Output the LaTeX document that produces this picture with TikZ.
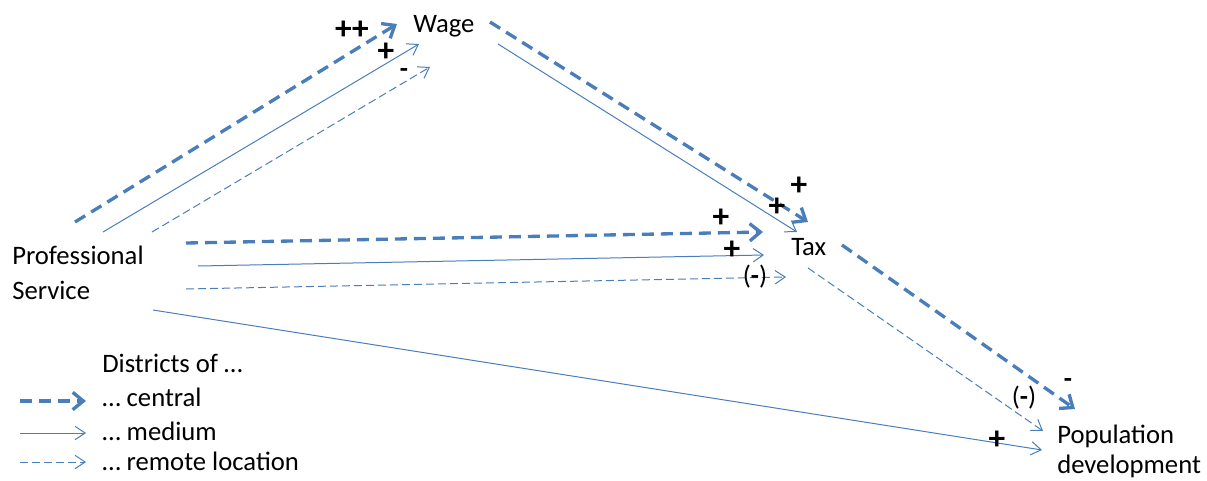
\documentclass[tikz,border=0pt]{standalone}
\usepackage{fontspec}
\setmainfont{Carlito}
\usetikzlibrary{arrows.meta}
\definecolor{LinkBlue}{RGB}{74,126,187}

\begin{document}
\begin{tikzpicture}[
  x=0.75pt, y=-0.75pt,
  font=\fontsize{20}{26.25}\selectfont,
  factor/.style={inner sep=0pt, align=left, anchor=base west},
  sign/.style={inner sep=0pt, font=\fontsize{25}{25}\selectfont\bfseries},
  minus/.style={inner sep=0pt, font=\fontsize{20}{20}\selectfont},
  central/.style={draw=LinkBlue, line width=2.5pt, dash pattern=on 9pt off 5.25pt,
    -{Straight Barb[length=8pt, width=13pt]}},
  medium/.style={draw=LinkBlue, line width=0.75pt,
    -{Straight Barb[length=7.5pt, width=10pt]}},
  remote/.style={draw=LinkBlue, line width=0.75pt, dash pattern=on 6pt off 3pt,
    -{Straight Barb[length=7.5pt, width=10pt]}}
]
\useasboundingbox (0,0) rectangle (1207,480);

% --- FACTORS ---
\node[factor] (wage) at (413,32) {Wage};
\node[factor] (service) at (12,299) {Professional\\Service};
\node[factor] (tax) at (791,255) {Tax};
\node[factor, font=\fontsize{20}{22.5}\selectfont] (pop) at (1057,473) {Population\\development};

% --- end points ---
\coordinate (c1s) at (75,222);   \coordinate (c1e) at (397,24);
\coordinate (c2s) at (490,22);   \coordinate (c2e) at (808,222);
\coordinate (c3s) at (186,243);  \coordinate (c3e) at (763,232);
\coordinate (c4s) at (842,245);  \coordinate (c4e) at (1075,409);
\coordinate (m1s) at (103,232);  \coordinate (m1e) at (419,44);
\coordinate (m2s) at (498,44);   \coordinate (m2e) at (797,232);
\coordinate (m3s) at (198,266);  \coordinate (m3e) at (764,255);
\coordinate (m4s) at (153,310);  \coordinate (m4e) at (1042,450);
\coordinate (r1s) at (152,232);  \coordinate (r1e) at (430,67);
\coordinate (r2s) at (186,289);  \coordinate (r2e) at (786,277);
\coordinate (r3s) at (808,268);  \coordinate (r3e) at (1043,431);

% --- central ---
\draw[central] (c1s) -- (c1e);
\draw[central] (c2s) -- (c2e);
\draw[central] (c3s) -- (c3e);
\draw[central] (c4s) -- (c4e);

% --- medium ---
\draw[medium] (m1s) -- (m1e);
\draw[medium] (m2s) -- (m2e);
\draw[medium] (m3s) -- (m3e);
\draw[medium] (m4s) -- (m4e);

% --- remote ---
\draw[remote] (r1s) -- (r1e);
\draw[remote] (r2s) -- (r2e);
\draw[remote] (r3s) -- (r3e);

% --- signs ---
\node[sign] (s1) at (352,30) {++};
\node[sign] (s2) at (386,52) {+};
\node[minus] (s3) at (404,73) {\textbf{-}};
\node[sign] (s4) at (799,186) {+};
\node[sign] (s5) at (777,207) {+};
\node[sign] (s6) at (721,218) {+};
\node[sign] (s7) at (732,250) {+};
\node[minus] (s8) at (755,277) {(\textbf{-})};
\node[minus] (s9) at (1068,383) {\textbf{-}};
\node[minus] (s10) at (1024,398) {(\textbf{-})};
\node[sign] (s11) at (997,440) {+};

% --- LEGEND ---
\node[factor] (legtitle) at (102,372) {Districts of \dots};
\node[factor] (legc) at (102,406) {\dots\ central};
\node[factor] (legm) at (102,440) {\dots\ medium};
\node[factor] (legr) at (102,470) {\dots\ remote location};
\coordinate (lc) at (20,401);
\coordinate (lm) at (20,433);
\coordinate (lr) at (20,462);
\draw[central] (lc) -- ([xshift=-12pt]legc.west |- lc);
\draw[medium] (lm) -- ([xshift=-12pt]legm.west |- lm);
\draw[remote] (lr) -- ([xshift=-12pt]legr.west |- lr);

\end{tikzpicture}
\end{document}
